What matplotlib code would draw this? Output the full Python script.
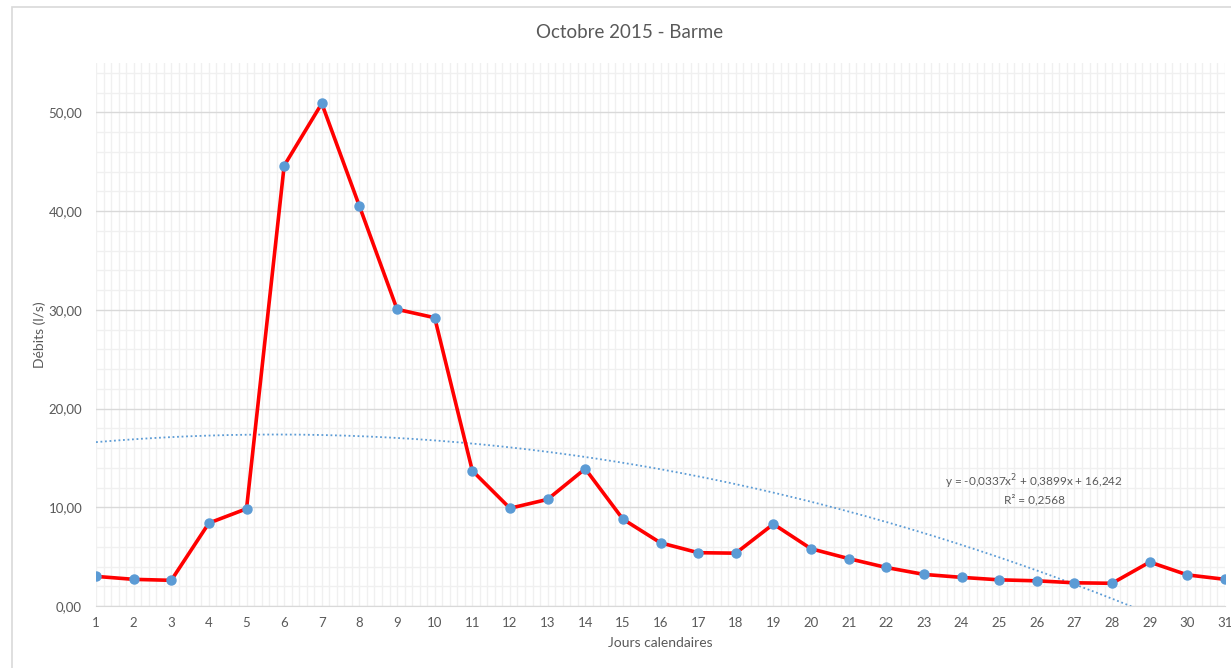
import numpy as np
import matplotlib.pyplot as plt
from matplotlib.ticker import MultipleLocator, FuncFormatter
from matplotlib.patches import Rectangle

plt.rcParams['font.family'] = ['Lato', 'DejaVu Sans']

# données
jours = list(range(1, 32))
debits = [3.0, 2.7, 2.6, 8.4, 9.85, 44.6, 50.9, 40.5, 30.05, 29.2,
          13.7, 9.9, 10.8, 13.9, 8.8, 6.4, 5.4, 5.35, 8.3, 5.8,
          4.8, 3.9, 3.2, 2.9, 2.65, 2.55, 2.35, 2.3, 4.45, 3.15, 2.7]
# courbe de tendance polynomiale (coefficients affichés)
coef_tendance = [-0.0337, 0.3899, 16.242]
texte_equation = "y = -0,0337x$^2$ + 0,3899x + 16,242\nR² = 0,2568"

gris = '#595959'

fig = plt.figure(figsize=(12.31, 6.68), dpi=100)
# cadre de la zone du graphique
fig.patches.append(Rectangle((12 / 1231, -0.1), 1.2, 1 - 7 / 668 + 0.1,
                             transform=fig.transFigure, fill=False,
                             edgecolor='#d9d9d9', linewidth=1.2))

ax = fig.add_axes([96 / 1231, 1 - 606 / 668, (1225 - 96) / 1231, (606 - 63) / 668])

# tendance
xt = np.linspace(1, 31, 400)
yt = np.polyval(coef_tendance, xt)
ax.plot(xt, yt, linestyle=(0, (1, 1.5)), color='#5B9BD5', linewidth=1.3, zorder=2)

# série
ax.plot(jours, debits, color='#FF0000', linewidth=2.6, zorder=3)
ax.plot(jours, debits, linestyle='none', marker='o', markersize=6.5,
        color='#5B9BD5', zorder=4)

ax.set_xlim(1, 31)
ax.set_ylim(0, 55)
ax.xaxis.set_major_locator(MultipleLocator(1))
ax.xaxis.set_minor_locator(MultipleLocator(0.2))
ax.yaxis.set_major_locator(MultipleLocator(10))
ax.yaxis.set_minor_locator(MultipleLocator(2))
ax.yaxis.set_major_formatter(FuncFormatter(lambda v, p: f"{v:.2f}".replace('.', ',')))

ax.grid(which='major', axis='y', color='#d9d9d9', linewidth=1)
ax.grid(which='major', axis='x', color='#f0f0f0', linewidth=1)
ax.grid(which='minor', color='#f0f0f0', linewidth=1)
ax.set_axisbelow(True)

for s in ['top', 'right', 'left']:
    ax.spines[s].set_visible(False)
ax.spines['bottom'].set_color('#d9d9d9')
ax.tick_params(which='both', length=0, labelsize=9.5, labelcolor=gris)
ax.tick_params(axis='x', pad=8)
ax.tick_params(axis='y', pad=10)

fig.text(630 / 1231, 1 - 32 / 668, "Octobre 2015 - Barme", fontsize=13.5,
         color=gris, ha='center', va='center')
ax.set_xlabel("Jours calendaires", fontsize=10, color=gris, labelpad=6)
ax.yaxis.set_label_coords(-(96 - 40) / (1225 - 96), 0.5)
ax.set_ylabel("Débits (l/s)", fontsize=10, color=gris, va='center')

ax.text(25.93, 11.9, texte_equation, ha='center', va='center',
        fontsize=8.5, color=gris, linespacing=1.3)

fig.savefig('out.png', dpi=100)
